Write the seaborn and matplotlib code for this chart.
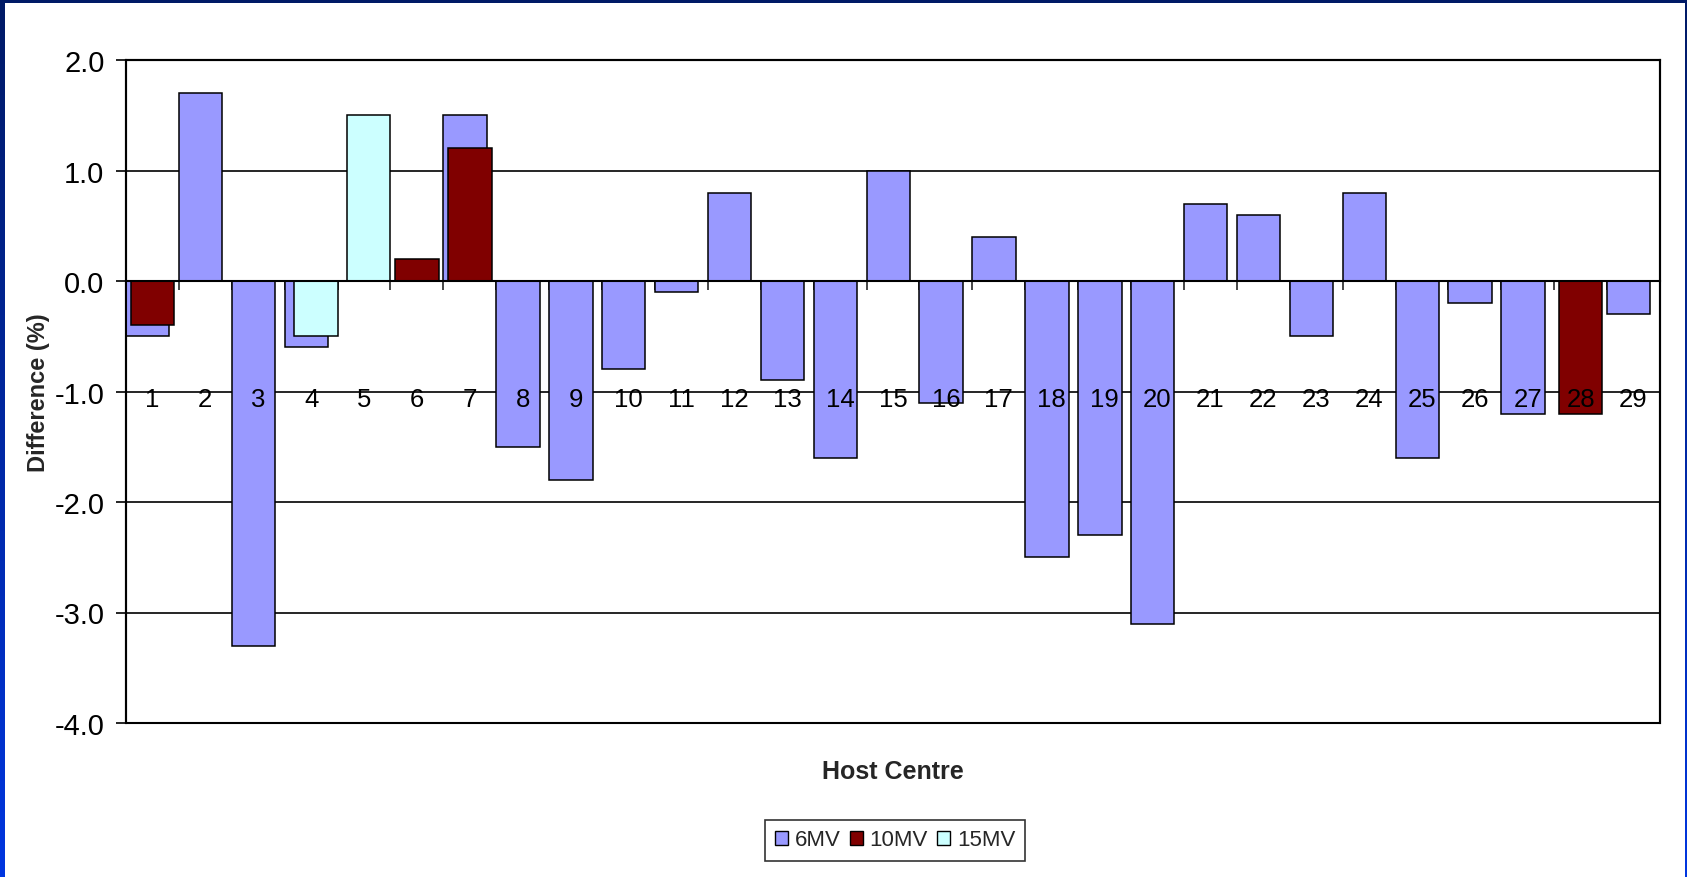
import numpy as np
import pandas as pd
import matplotlib
matplotlib.use("Agg")
import matplotlib.pyplot as plt
from matplotlib.patches import Patch, Rectangle
import seaborn as sns

# ---- data -------------------------------------------------------------
centres = list(range(1, 30))
nan = np.nan
mv6 = [-0.5, 1.7, -3.3, -0.6, nan, nan, 1.5, -1.5, -1.8, -0.8,
       -0.1, 0.8, -0.9, -1.6, 1.0, -1.1, 0.4, -2.5, -2.3, -3.1,
       0.7, 0.6, -0.5, 0.8, -1.6, -0.2, -1.2, nan, -0.3]
mv10 = [-0.4, nan, nan, nan, nan, 0.2, 1.2, nan, nan, nan,
        nan, nan, nan, nan, nan, nan, nan, nan, nan, nan,
        nan, nan, nan, nan, nan, nan, nan, -1.2, nan]
mv15 = [nan, nan, nan, -0.5, 1.5, nan, nan, nan, nan, nan,
        nan, nan, nan, nan, nan, nan, nan, nan, nan, nan,
        nan, nan, nan, nan, nan, nan, nan, nan, nan]
series_names = ["6MV", "10MV", "15MV"]
series_colors = ["#9999FF", "#800000", "#CCFFFF"]
y_ticks = [2.0, 1.0, 0.0, -1.0, -2.0, -3.0, -4.0]

# ---- style ------------------------------------------------------------
sns.set_style("white")
plt.rcParams["font.family"] = ["Liberation Sans", "DejaVu Sans"]

W, H = 1687, 878
fig = plt.figure(figsize=(W / 100, H / 100), dpi=100)

# slide-style frame: blue gradient behind a white panel
bg = fig.add_axes([0, 0, 1, 1], zorder=-10)
grad = np.linspace(0, 1, 256).reshape(-1, 1)
cmap = matplotlib.colors.LinearSegmentedColormap.from_list("frame", ["#001A66", "#0036E0"])
bg.imshow(grad, aspect="auto", cmap=cmap, extent=[0, 1, 0, 1], origin="upper")
bg.add_patch(Rectangle((5 / W, 0), 1680 / W, 874 / H, transform=bg.transAxes,
                       facecolor="white", edgecolor="none"))
bg.set_xlim(0, 1)
bg.set_ylim(0, 1)
bg.axis("off")

left, right, top, bottom = 126, 1660, 61, 724
ax = fig.add_axes([left / W, (H - bottom) / H, (right - left) / W, (bottom - top) / H])
ax.set_facecolor("white")

# clustered bars with heavy overlap: each series shifted by a small step
bar_width = 0.82
step = 0.09
offsets = [-step, 0.0, step]
for name, vals, color, off in zip(series_names, [mv6, mv10, mv15], series_colors, offsets):
    df = pd.DataFrame({"centre": centres, "diff": vals}).dropna()
    sns.barplot(data=df, x=np.asarray(df["centre"], dtype=float) + off, y="diff",
                native_scale=True, width=bar_width, color=color,
                edgecolor="black", linewidth=1.1, saturation=1, ax=ax, zorder=3,
                errorbar=None)

ax.set_xlim(0.5, 29.5)
ax.set_ylim(-4.0, 2.0)

# horizontal gridlines
ax.set_yticks(y_ticks)
ax.set_yticklabels([f"{v:.1f}" for v in y_ticks], fontsize=21)
ax.yaxis.grid(True, color="black", linewidth=1.2, zorder=0)
ax.set_axisbelow(True)
ax.tick_params(axis="y", direction="out", length=7.5, width=1.2, pad=8,
               left=True, colors="black")

# category axis sits at zero, ticks between categories
ax.spines["bottom"].set_position(("data", 0))
ax.spines["bottom"].set_zorder(4)
ax.set_xticks(np.arange(0.5, 30.0, 1.0))
ax.set_xticklabels([])
ax.tick_params(axis="x", direction="out", length=6.5, width=1.2, bottom=True)
for s in ["bottom", "left", "right", "top"]:
    ax.spines[s].set_color("black")
    ax.spines[s].set_linewidth(1.5)
ax.spines["left"].set_zorder(4)
ax.patch.set_edgecolor("black")
ax.patch.set_linewidth(1.5)

# category labels drawn inside the plot just under the -1.0 gridline
for c in centres:
    ax.text(c, -1.07, str(c), ha="center", va="center", fontsize=18.5,
            color="black", zorder=6)

ax.set_xlabel("")
ax.set_ylabel("")
fig.text((left + right) / 2 / W, 1 - 772 / H, "Host Centre", ha="center", va="center",
         fontsize=18, fontweight="bold")
fig.text(39 / W, 1 - (top + bottom) / 2 / H, "Difference (%)", ha="center", va="center",
         rotation=90, fontsize=17, fontweight="bold")

handles = [Patch(facecolor=c, edgecolor="black", linewidth=1.0) for c in series_colors]
leg = fig.legend(handles, series_names, loc="center", bbox_to_anchor=(895 / W, 1 - 841 / H),
                 ncol=3, fontsize=16, frameon=True, fancybox=False, edgecolor="black",
                 handlelength=0.6, handleheight=0.6, handletextpad=0.3,
                 columnspacing=0.4, borderpad=0.45, borderaxespad=0)
leg.get_frame().set_linewidth(1.2)

fig.savefig("out.png", dpi=100)
